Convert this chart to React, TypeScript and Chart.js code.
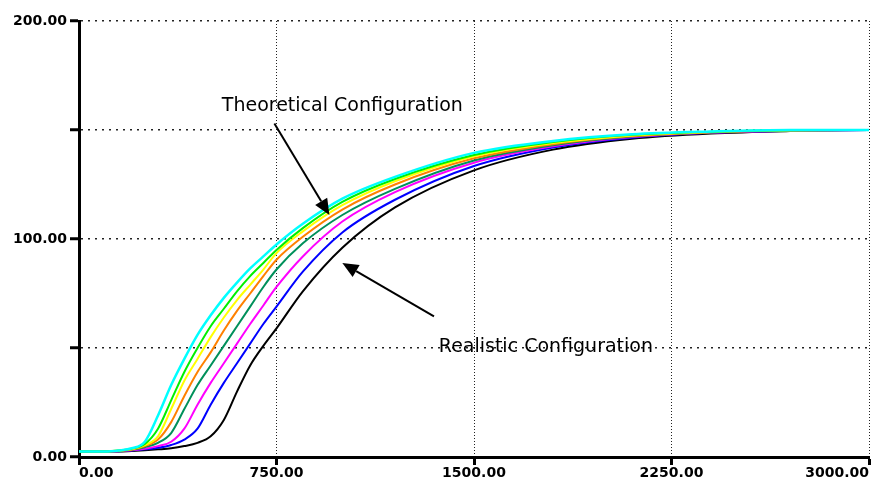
import React, { useEffect, useRef } from "react";
import { Chart, registerables } from "chart.js";

Chart.register(...registerables);

const times = [0, 100, 150, 200, 250, 300, 350, 400, 450, 500, 550, 600, 650, 700, 750, 850, 1000, 1200, 1500, 1800, 2100, 2400, 2700, 3000];

const cyanValues = [2.5, 2.5, 3, 4, 7, 19, 33, 45, 56, 65, 73, 80, 86.5, 92, 97.5, 107, 118.5, 128.5, 139.5, 145, 148, 149.3, 150, 150];
const greenValues = [2.5, 2.5, 3, 3.8, 6, 13, 26, 39, 50, 60, 68, 76, 83, 89, 95, 105, 117, 127.5, 138.5, 144.5, 147.8, 149.2, 149.9, 150];
const yellowValues = [2.5, 2.5, 3, 3.6, 5.5, 9.5, 22, 35, 45, 55, 64, 72, 79, 86, 93.5, 103.5, 115.5, 126.5, 138, 144, 147.5, 149.1, 149.9, 150];
const orangeValues = [2.5, 2.5, 2.8, 3.4, 5, 8, 16, 28, 39, 48, 58, 67, 75, 83, 90.5, 101, 113.5, 125, 137, 143.5, 147.2, 149, 149.8, 150];
const seaGreenValues = [2.5, 2.5, 2.8, 3.3, 4.5, 6.5, 11, 22, 33, 42, 51, 60, 69, 78, 86, 98, 111, 123, 136, 143, 147, 148.9, 149.8, 150];
const magentaValues = [2.5, 2.5, 2.7, 3.1, 3.8, 5, 7, 13, 24, 34, 43, 52, 61, 69.5, 78, 92, 108, 121.5, 135, 142.5, 146.8, 148.8, 149.7, 150];
const blueValues = [2.5, 2.5, 2.6, 3, 3.5, 4.2, 5.5, 8, 13, 24, 34, 43, 52, 61, 69, 85, 103, 118, 133.5, 142, 146.5, 148.7, 149.6, 150];
const blackValues = [2.5, 2.5, 2.5, 2.8, 3.1, 3.5, 4, 5, 6.5, 9.5, 17, 30, 42, 51, 59, 76, 96, 114.5, 131.5, 141, 146, 148.4, 149.5, 150];

const seriesList = [
  { name: "S1", values: cyanValues, color: "#00FFFF", width: 2.5 },
  { name: "S2", values: greenValues, color: "#00F000", width: 2 },
  { name: "S3", values: yellowValues, color: "#FFFF00", width: 2 },
  { name: "S4", values: orangeValues, color: "#FF8000", width: 2 },
  { name: "S5", values: seaGreenValues, color: "#00905A", width: 2 },
  { name: "S6", values: magentaValues, color: "#FF00FF", width: 2 },
  { name: "S7", values: blueValues, color: "#0000FF", width: 2 },
  { name: "S8", values: blackValues, color: "#000000", width: 2 },
];

const xTicksStep = 750;
const yTicksStep = 50;
const yLabelled = [0, 100, 200];

const annotations = [
  { text: "Theoretical Configuration", at: [1000, 161], from: [742, 153], to: [951, 111] },
  { text: "Realistic Configuration", at: [1773, 50.5], from: [1348, 64.5], to: [1000, 89] },
];

const annotationPlugin = {
  id: "arrowNotes",
  afterDatasetsDraw(chart: any) {
    const { ctx, scales } = chart;
    const xs = scales.x;
    const ys = scales.y;
    ctx.save();
    for (const a of annotations) {
      const x1 = xs.getPixelForValue(a.from[0]);
      const y1 = ys.getPixelForValue(a.from[1]);
      const x2 = xs.getPixelForValue(a.to[0]);
      const y2 = ys.getPixelForValue(a.to[1]);
      const ang = Math.atan2(y2 - y1, x2 - x1);
      const headLen = 16;
      const headW = 7;
      const bx = x2 - headLen * Math.cos(ang);
      const by = y2 - headLen * Math.sin(ang);
      ctx.strokeStyle = "#000";
      ctx.lineWidth = 2;
      ctx.beginPath();
      ctx.moveTo(x1, y1);
      ctx.lineTo(bx, by);
      ctx.stroke();
      ctx.fillStyle = "#000";
      ctx.beginPath();
      ctx.moveTo(x2, y2);
      ctx.lineTo(bx + headW * Math.sin(ang), by - headW * Math.cos(ang));
      ctx.lineTo(bx - headW * Math.sin(ang), by + headW * Math.cos(ang));
      ctx.closePath();
      ctx.fill();

      const tx = xs.getPixelForValue(a.at[0]);
      const ty = ys.getPixelForValue(a.at[1]);
      ctx.font = "19px 'DejaVu Sans'";
      ctx.textAlign = "center";
      ctx.textBaseline = "middle";
      ctx.fillStyle = "#000";
      ctx.fillText(a.text, tx, ty);
    }
    ctx.restore();
  },
};

export default function App() {
  const canvasRef = useRef<HTMLCanvasElement | null>(null);

  useEffect(() => {
    if (!canvasRef.current) return;
    const tickFont = { family: "'DejaVu Sans'", size: 14, weight: "bold" as const };
    const chart = new Chart(canvasRef.current, {
      type: "line",
      data: {
        datasets: seriesList.map((s) => ({
          label: s.name,
          data: times.map((t, i) => ({ x: t, y: s.values[i] })),
          borderColor: s.color,
          backgroundColor: s.color,
          borderWidth: s.width,
          pointRadius: 0,
          fill: false,
          cubicInterpolationMode: "monotone" as const,
        })),
      },
      options: {
        animation: false,
        responsive: false,
        maintainAspectRatio: false,
        layout: { padding: { top: 21, right: 9, left: 0, bottom: 0 } },
        plugins: {
          legend: { display: false },
          tooltip: { enabled: false },
        },
        scales: {
          x: {
            type: "linear",
            min: 0,
            max: 3000,
            ticks: {
              stepSize: xTicksStep,
              callback: (v: any) => Number(v).toFixed(2),
              font: tickFont,
              color: "#000",
              padding: 0,
              maxRotation: 0,
              align: "inner",
              autoSkip: false,
            },
            grid: {
              color: "#222",
              lineWidth: 1,
              tickLength: 8,
              tickWidth: 3,
              tickColor: "#000",
              tickBorderDash: [],
            },
            border: { display: true, width: 3, color: "#000", dash: [1, 2] },
            afterFit: (s: any) => {
              s.height = 36;
              s.paddingLeft = 0;
              s.paddingRight = 0;
            },
          } as any,
          y: {
            min: 0,
            max: 200,
            ticks: {
              stepSize: yTicksStep,
              callback: (v: any) => (yLabelled.includes(Number(v)) ? Number(v).toFixed(2) : ""),
              font: tickFont,
              color: "#000",
              padding: 3,
              autoSkip: false,
            },
            grid: {
              color: "#222",
              lineWidth: 1.5,
              tickLength: 9,
              tickWidth: 3,
              tickColor: "#000",
              tickBorderDash: [],
            },
            border: { display: true, width: 3, color: "#000", dash: [2, 5] },
            afterFit: (s: any) => {
              s.width = 79;
              s.paddingTop = 0;
              s.paddingBottom = 0;
            },
          } as any,
        },
      },
      plugins: [annotationPlugin],
    });
    return () => chart.destroy();
  }, []);

  return (
    <div style={{ position: "fixed", left: 0, top: 0, width: 878, height: 493, background: "#fff" }}>
      <canvas ref={canvasRef} width={878} height={493} style={{ display: "block" }} />
    </div>
  );
}
